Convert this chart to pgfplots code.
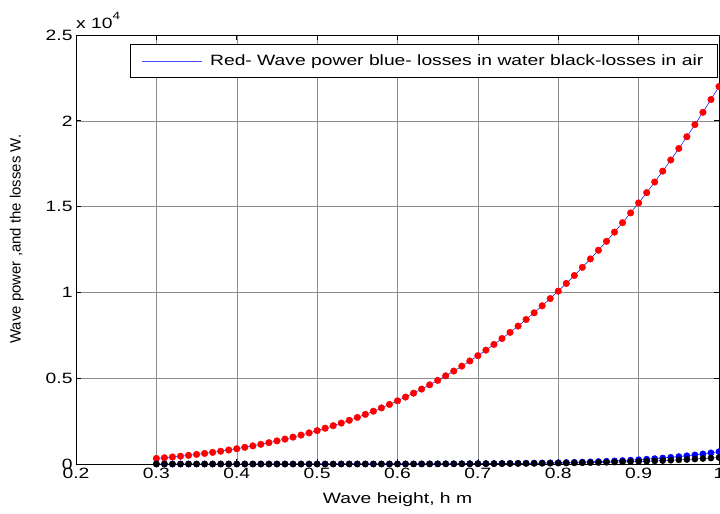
\documentclass[border=0pt]{standalone}
\usepackage{pgfplots}
\pgfplotsset{compat=1.18}
\usepackage{fontspec}
\setmainfont{Liberation Sans}
\newfontfamily\widefont{Liberation Sans}[FakeStretch=1.29]
\newcommand{\cf}{\widefont\fontsize{15}{17}\selectfont}
\newcommand{\yf}{\fontsize{15}{17}\selectfont}
\definecolor{legblue}{RGB}{70,70,255}
\begin{document}
\begin{tikzpicture}
\begin{axis}[
  scale only axis,
  width=643bp, height=429bp,
  xmin=0.2, xmax=1, ymin=0, ymax=25000,
  xtick={0.2,0.3,0.4,0.5,0.6,0.7,0.8,0.9,1},
  xticklabels={0.2,0.3,0.4,0.5,0.6,0.7,0.8,0.9,1},
  ytick={0,5000,10000,15000,20000,25000},
  yticklabels={0,0.5,1,1.5,2,2.5},
  scaled y ticks=false,
  tick align=inside,
  major tick length=5bp,
  /pgf/number format/assume math mode=true,
  tick label style={font=\cf},
  xticklabel style={overlay, yshift=-1bp},
  grid=major,
  major grid style={black!45, line width=0.5pt},
  axis line style={black, line width=0.8pt},
  every tick/.style={black, line width=0.6pt},
  xlabel={Wave height, h m},
  ylabel={Wave power ,and the losses W.},
  xlabel style={font=\cf, at={(axis description cs:0.5,-0.083)}, anchor=center},
  ylabel style={font=\yf, at={(axis description cs:-0.092,0.524)}, anchor=center},
  clip=false,
  legend style={at={(rel axis cs:0.998,0.979)}, anchor=north east, font=\cf,
    draw=black, line width=0.8pt, inner xsep=12bp, inner ysep=8.5bp,
    /tikz/every odd column/.append style={column sep=6bp}},
  legend cell align=left,
  legend image code/.code={\fill[fill=legblue, draw=none] (0bp,-0.5bp) rectangle (60bp,0.5bp);},
]
\addplot[blue, line width=0.5pt] coordinates {
(0.30,325)(0.31,365)(0.32,408)(0.33,454)(0.34,504)(0.35,558)(0.36,616)(0.37,678)(0.38,744)(0.39,815)(0.40,891)(0.41,971)(0.42,1056)(0.43,1147)(0.44,1243)(0.45,1345)(0.46,1452)(0.47,1566)(0.48,1686)(0.49,1812)(0.50,1945)(0.51,2084)(0.52,2231)(0.53,2384)(0.54,2546)(0.55,2714)(0.56,2891)(0.57,3076)(0.58,3269)(0.59,3471)(0.60,3681)(0.61,3900)(0.62,4129)(0.63,4366)(0.64,4614)(0.65,4871)(0.66,5138)(0.67,5416)(0.68,5704)(0.69,6004)(0.70,6313)(0.71,6635)(0.72,6967)(0.73,7312)(0.74,7669)(0.75,8038)(0.76,8419)(0.77,8813)(0.78,9221)(0.79,9641)(0.80,10075)(0.81,10523)(0.82,10984)(0.83,11460)(0.84,11951)(0.85,12457)(0.86,12977)(0.87,13512)(0.88,14064)(0.89,14631)(0.90,15215)(0.91,15814)(0.92,16432)(0.93,17066)(0.94,17716)(0.95,18385)(0.96,19071)(0.97,19776)(0.98,20497)(0.99,21240)(1.00,22000)
};
\addlegendentry{Red- Wave power blue- losses in water black-losses in air}
\addplot[forget plot, only marks, mark=*, mark size=3.3bp, mark options={draw=red, fill=red}] coordinates {
(0.30,325)(0.31,365)(0.32,408)(0.33,454)(0.34,504)(0.35,558)(0.36,616)(0.37,678)(0.38,744)(0.39,815)(0.40,891)(0.41,971)(0.42,1056)(0.43,1147)(0.44,1243)(0.45,1345)(0.46,1452)(0.47,1566)(0.48,1686)(0.49,1812)(0.50,1945)(0.51,2084)(0.52,2231)(0.53,2384)(0.54,2546)(0.55,2714)(0.56,2891)(0.57,3076)(0.58,3269)(0.59,3471)(0.60,3681)(0.61,3900)(0.62,4129)(0.63,4366)(0.64,4614)(0.65,4871)(0.66,5138)(0.67,5416)(0.68,5704)(0.69,6004)(0.70,6313)(0.71,6635)(0.72,6967)(0.73,7312)(0.74,7669)(0.75,8038)(0.76,8419)(0.77,8813)(0.78,9221)(0.79,9641)(0.80,10075)(0.81,10523)(0.82,10984)(0.83,11460)(0.84,11951)(0.85,12457)(0.86,12977)(0.87,13512)(0.88,14064)(0.89,14631)(0.90,15215)(0.91,15814)(0.92,16432)(0.93,17066)(0.94,17716)(0.95,18385)(0.96,19071)(0.97,19776)(0.98,20497)(0.99,21240)(1.00,22000)
};
\addplot[forget plot, blue, line width=0.5pt, mark=*, mark size=3.1bp, mark options={draw=blue, fill=blue}] coordinates {
(0.30,0)(0.31,0)(0.32,0)(0.33,0)(0.34,0)(0.35,0.01)(0.36,0.01)(0.37,0.02)(0.38,0.04)(0.39,0.06)(0.40,0.08)(0.41,0.10)(0.42,0.12)(0.43,0.16)(0.44,0.20)(0.45,0.25)(0.46,0.31)(0.47,0.38)(0.48,0.47)(0.49,0.57)(0.50,0.70)(0.51,0.86)(0.52,1.04)(0.53,1.26)(0.54,1.52)(0.55,1.82)(0.56,2.2)(0.57,2.6)(0.58,3.1)(0.59,3.7)(0.60,4.4)(0.61,5.1)(0.62,6.0)(0.63,7.1)(0.64,8.3)(0.65,9.7)(0.66,11.3)(0.67,13.1)(0.68,15.2)(0.69,17.6)(0.70,20.3)(0.71,23.4)(0.72,27.0)(0.73,30.9)(0.74,35.5)(0.75,40.5)(0.76,46.3)(0.77,52.8)(0.78,60.0)(0.79,68.2)(0.80,77.3)(0.81,87.5)(0.82,99.0)(0.83,111.7)(0.84,125.9)(0.85,141.7)(0.86,159.3)(0.87,178.9)(0.88,200.5)(0.89,224.5)(0.90,251.0)(0.91,280.4)(0.92,312.8)(0.93,348.5)(0.94,387.8)(0.95,431.1)(0.96,478.7)(0.97,530.9)(0.98,588.3)(0.99,651.2)(1.00,720)
};
\addplot[forget plot, blue, line width=0.4pt, mark=*, mark size=3.1bp, mark options={draw=black, fill=black}] coordinates {
(0.30,0)(0.31,0)(0.32,0)(0.33,0)(0.34,0.01)(0.35,0.01)(0.36,0.02)(0.37,0.03)(0.38,0.05)(0.39,0.08)(0.40,0.11)(0.41,0.13)(0.42,0.15)(0.43,0.20)(0.44,0.24)(0.45,0.29)(0.46,0.36)(0.47,0.43)(0.48,0.52)(0.49,0.61)(0.50,0.74)(0.51,0.89)(0.52,1.06)(0.53,1.25)(0.54,1.49)(0.55,1.75)(0.56,2.07)(0.57,2.4)(0.58,2.8)(0.59,3.3)(0.60,3.8)(0.61,4.4)(0.62,5.1)(0.63,5.9)(0.64,6.8)(0.65,7.9)(0.66,9.0)(0.67,10.3)(0.68,11.8)(0.69,13.5)(0.70,15.3)(0.71,17.4)(0.72,19.8)(0.73,22.4)(0.74,25.3)(0.75,28.5)(0.76,32.1)(0.77,36.2)(0.78,40.6)(0.79,45.5)(0.80,51.0)(0.81,57.0)(0.82,63.7)(0.83,71.0)(0.84,79.1)(0.85,88.0)(0.86,97.8)(0.87,108.5)(0.88,120.3)(0.89,133.1)(0.90,147.2)(0.91,162.6)(0.92,179.4)(0.93,197.8)(0.94,217.7)(0.95,239.5)(0.96,263.2)(0.97,288.9)(0.98,316.8)(0.99,347.1)(1.00,380)
};
\node[anchor=south west, font=\cf, inner sep=0pt] at (axis description cs:0,1.015) {x 10\raisebox{0.6em}{\widefont\fontsize{10.5}{12}\selectfont 4}};
\end{axis}
\pgfresetboundingbox
\path[use as bounding box] ([xshift=-76bp,yshift=-50bp]current axis.south west) rectangle ([xshift=1bp,yshift=35bp]current axis.north east);
\end{tikzpicture}
\end{document}
